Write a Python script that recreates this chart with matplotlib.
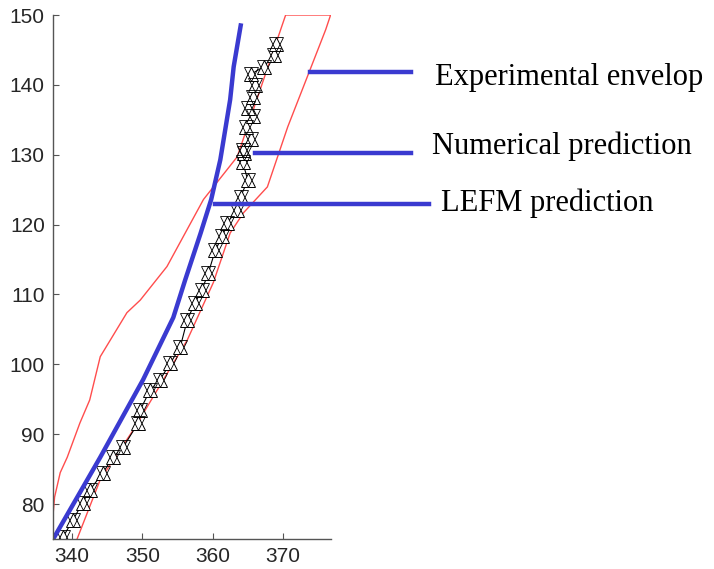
import numpy as np
import matplotlib.pyplot as plt

# experimental envelope (closed polygon, left edge up then right edge down)
env_x = [337.3, 337.3, 337.5, 338.3, 339.3, 341.1, 342.5, 344.0, 347.8, 349.7,
         353.5, 358.7, 363.5, 370.4, 376.8, 376.1, 373.5, 370.7, 367.8, 364.4,
         362.5, 360.1, 356.4, 352.1, 348.7, 344.0, 340.7]
env_y = [75.0, 78.7, 81.0, 84.5, 86.7, 91.6, 94.9, 101.1, 107.4, 109.2,
         114.0, 123.6, 129.7, 150.0, 150.0, 147.9, 141.2, 134.0, 125.4, 121.7,
         118.8, 111.7, 103.5, 96.3, 90.6, 83.5, 75.0]

# numerical prediction (marker path)
num_x = [338.7, 340.1, 341.5, 342.5, 344.4, 345.8, 347.3, 349.4, 349.7, 351.1,
         352.5, 354.0, 355.4, 356.4, 357.5, 358.5, 359.4, 360.4, 361.4, 362.1,
         363.5, 364.0, 365.0, 364.3, 364.4, 364.3, 365.4, 364.7, 365.8, 365.1,
         365.8, 366.1, 365.4, 367.3, 368.7, 369.0]
num_y = [75.3, 77.7, 80.2, 82.0, 84.5, 86.7, 88.2, 91.6, 93.5, 96.3,
         97.8, 100.2, 102.5, 106.4, 108.8, 110.7, 113.1, 116.4, 118.3, 120.3,
         122.1, 124.0, 126.4, 128.9, 130.3, 130.7, 132.2, 134.0, 135.5, 136.7,
         138.3, 140.0, 141.5, 142.6, 144.3, 145.8]

# LEFM prediction
lefm_x = [337.3, 344.0, 350.1, 354.4, 356.1, 358.3, 359.8, 361.1, 362.5, 363.0, 364.0]
lefm_y = [75.0, 86.7, 97.8, 106.7, 112.1, 118.8, 123.6, 129.3, 137.9, 142.6, 148.5]

labels = ['Experimental envelop', 'Numerical prediction', 'LEFM prediction']
line_y = [141.8, 130.3, 123.0]
line_x0 = [373.8, 366.1, 360.4]
line_x1 = [388.3, 388.3, 390.8]
text_x = [391.7, 391.3, 392.5]
text_y = [141.0, 131.2, 123.1]

fig = plt.figure(figsize=(7.14, 5.69), dpi=100)
ax = fig.add_axes([0.0745, 0.0527, 0.3895, 0.9209])

ax.plot(env_x, env_y, color='#ff4d4d', lw=1.0)
ax.plot(num_x, num_y, color='black', lw=0.8, marker='^', ms=10,
        mfc='white', mec='black', mew=0.7)
ax.plot(num_x, num_y, ls='none', marker='v', ms=10,
        mfc='none', mec='black', mew=0.6)
ax.plot(lefm_x, lefm_y, color='#3a3ad0', lw=3.2)

for y, x0, x1 in zip(line_y, line_x0, line_x1):
    ax.plot([x0, x1], [y, y], color='#3a3ad0', lw=3.2, clip_on=False)
for tx, ty, lab in zip(text_x, text_y, labels):
    ax.text(tx, ty, lab, family='Liberation Serif', fontsize=22,
            va='center', ha='left', color='black', clip_on=False)

ax.set_xlim(337.3, 376.9)
ax.set_ylim(75, 150)
ax.set_xticks([340, 350, 360, 370])
ax.set_yticks([80, 90, 100, 110, 120, 130, 140, 150])
ax.tick_params(direction='in', length=4, color='#555555', labelsize=15,
               labelcolor='#262626', pad=6)
for lab in ax.get_xticklabels() + ax.get_yticklabels():
    lab.set_family('Liberation Sans')
ax.spines['top'].set_visible(False)
ax.spines['right'].set_visible(False)
for s in ['left', 'bottom']:
    ax.spines[s].set_color('#555555')
    ax.spines[s].set_linewidth(1.0)

fig.savefig('out.png', dpi=100)
